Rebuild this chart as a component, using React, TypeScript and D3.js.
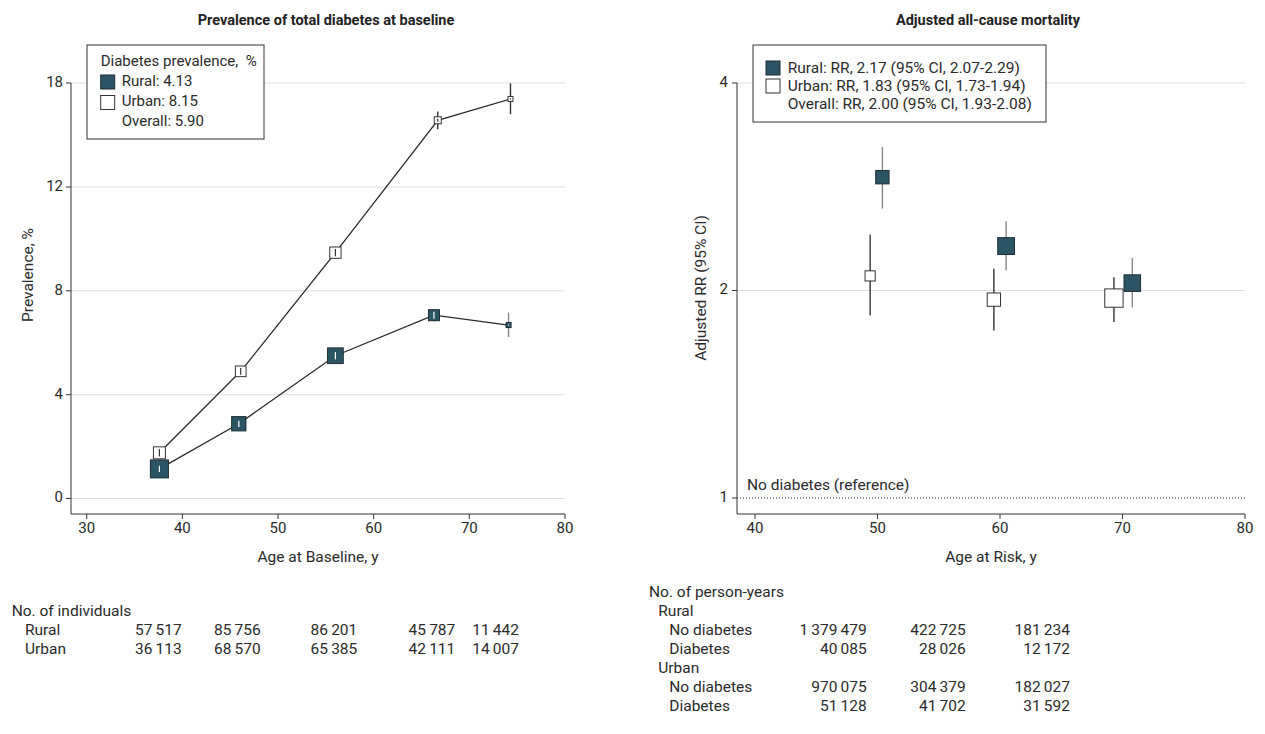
import React, { useEffect, useRef } from 'react';
import * as d3 from 'd3';

// Left panel: prevalence of total diabetes by baseline age group
const urbanAge = [37.6, 46.1, 56.0, 66.7, 74.3];
const urbanPrev = [1.76, 4.9, 9.47, 15.85, 17.08];
const urbanLo = [1.62, 4.74, 9.25, 15.33, 16.2];
const urbanHi = [1.9, 5.06, 9.7, 16.35, 17.98];
const urbanWeight = [1.44, 1.14, 1.28, 0.49, 0.25];

const ruralAge = [37.6, 45.9, 56.0, 66.3, 74.1];
const ruralPrev = [1.14, 2.88, 5.5, 7.06, 6.68];
const ruralLo = [1.02, 2.76, 5.36, 6.82, 6.22];
const ruralHi = [1.26, 3.0, 5.64, 7.3, 7.16];
const ruralWeight = [3.24, 2.04, 2.46, 1.21, 0.25];

const prevTicks = [0, 4, 8, 12, 18];
const baselineTicks = [30, 40, 50, 60, 70, 80];

// Right panel: adjusted all-cause mortality RR by age at risk
const rrUrbanAge = [49.4, 59.5, 69.3];
const rrUrban = [2.1, 1.94, 1.95];
const rrUrbanLo = [1.84, 1.75, 1.8];
const rrUrbanHi = [2.41, 2.15, 2.09];

const rrRuralAge = [50.4, 60.5, 70.8];
const rrRural = [2.92, 2.32, 2.05];
const rrRuralLo = [2.63, 2.14, 1.89];
const rrRuralHi = [3.23, 2.52, 2.23];

const rrTicks = [1, 2, 4];
const riskTicks = [40, 50, 60, 70, 80];

// Tables
const individualsRural = ['57\u2009517', '85\u2009756', '86\u2009201', '45\u2009787', '11\u2009442'];
const individualsUrban = ['36\u2009113', '68\u2009570', '65\u2009385', '42\u2009111', '14\u2009007'];
const pyRuralNo = ['1\u2009379\u2009479', '422\u2009725', '181\u2009234'];
const pyRuralYes = ['40\u2009085', '28\u2009026', '12\u2009172'];
const pyUrbanNo = ['970\u2009075', '304\u2009379', '182\u2009027'];
const pyUrbanYes = ['51\u2009128', '41\u2009702', '31\u2009592'];

const RURAL = '#2b5565';
const RURAL_EDGE = '#1d2c33';
const INK = '#333';
const GRID = '#dedede';
const FONT = 'Roboto, "Open Sans", sans-serif';
const FS = 15.5;   // body text
const TS = 15;     // tick labels

export default function App() {
  const svgRef = useRef<SVGSVGElement>(null);
  const W = 1265, H = 734;

  useEffect(() => {
    const svg = d3.select(svgRef.current);
    svg.selectAll('*').remove();
    svg.attr('font-family', FONT).attr('fill', INK);

    const txt = (x: number, y: number, s: string, size = FS, anchor = 'start') =>
      svg.append('text').attr('x', x).attr('y', y).attr('font-size', size)
        .attr('text-anchor', anchor).attr('dominant-baseline', 'middle').attr('fill', '#2a2a2a').text(s);

    // ---------- Left panel ----------
    const L = { left: 71, right: 565, top: 83, bottom: 514 };
    const xL = d3.scaleLinear().domain([30, 80]).range([86.7, 565]);
    const yL = d3.scaleLinear().domain(prevTicks).range([498.5, 394.7, 290.8, 187, 83]);
    const sideL = d3.scaleSqrt().domain([0, 1]).range([0, 10]);

    svg.append('text').attr('x', 326).attr('y', 21).attr('text-anchor', 'middle')
      .attr('dominant-baseline', 'middle').attr('font-size', 14.5).attr('font-weight', 'bold')
      .attr('fill', '#222').text('Prevalence of total diabetes at baseline');

    const gl = svg.append('g');
    for (const t of prevTicks) {
      gl.append('line').attr('x1', L.left).attr('x2', L.right).attr('y1', yL(t)).attr('y2', yL(t))
        .attr('stroke', GRID).attr('stroke-width', 1);
      gl.append('line').attr('x1', L.left - 5).attr('x2', L.left).attr('y1', yL(t)).attr('y2', yL(t))
        .attr('stroke', INK);
      txt(L.left - 8, yL(t), String(t), TS, 'end');
    }
    gl.append('line').attr('x1', L.left).attr('x2', L.left).attr('y1', L.top).attr('y2', L.bottom).attr('stroke', INK);
    gl.append('line').attr('x1', L.left).attr('x2', L.right).attr('y1', L.bottom).attr('y2', L.bottom).attr('stroke', INK);
    for (const t of baselineTicks) {
      gl.append('line').attr('x1', xL(t)).attr('x2', xL(t)).attr('y1', L.bottom).attr('y2', L.bottom + 5).attr('stroke', INK);
      txt(xL(t), L.bottom + 15, String(t), TS, 'middle');
    }
    txt((L.left + L.right) / 2, 558, 'Age at Baseline, y', FS, 'middle');
    svg.append('text').attr('transform', `translate(29,275) rotate(-90)`).attr('text-anchor', 'middle')
      .attr('dominant-baseline', 'middle').attr('font-size', FS).attr('fill', '#2a2a2a').text('Prevalence, %');

    const line = d3.line<number>();
    const drawSeries = (ages: number[], vals: number[], lo: number[], hi: number[], wts: number[], rural: boolean) => {
      gl.append('path')
        .attr('d', line(ages.map((a, i) => [xL(a), yL(vals[i])] as [number, number])))
        .attr('fill', 'none').attr('stroke', '#2a2a2a').attr('stroke-width', 1.3);
      ages.forEach((a, i) => {
        const cx = xL(a), cy = yL(vals[i]), s = sideL(wts[i]);
        const yTop = yL(hi[i]), yBot = yL(lo[i]);
        gl.append('line').attr('x1', cx).attr('x2', cx).attr('y1', yTop).attr('y2', yBot)
          .attr('stroke', rural ? '#888' : INK).attr('stroke-width', 1.4);
        gl.append('rect').attr('x', cx - s / 2).attr('y', cy - s / 2).attr('width', s).attr('height', s)
          .attr('fill', rural ? RURAL : '#fff').attr('stroke', rural ? RURAL_EDGE : INK).attr('stroke-width', 1);
        const y1 = Math.max(yTop, cy - s / 2 + 2), y2 = Math.min(yBot, cy + s / 2 - 2);
        if (y2 > y1) {
          gl.append('line').attr('x1', cx).attr('x2', cx).attr('y1', y1).attr('y2', y2)
            .attr('stroke', rural ? '#fff' : INK).attr('stroke-width', 1.2);
        }
      });
    };
    drawSeries(urbanAge, urbanPrev, urbanLo, urbanHi, urbanWeight, false);
    drawSeries(ruralAge, ruralPrev, ruralLo, ruralHi, ruralWeight, true);

    // Left legend
    const LG = 15;
    gl.append('rect').attr('x', 87).attr('y', 45).attr('width', 177).attr('height', 94)
      .attr('fill', '#fff').attr('stroke', INK);
    txt(100.7, 62, 'Diabetes prevalence,\u00a0 %', LG);
    gl.append('rect').attr('x', 100.7).attr('y', 75).attr('width', 14).attr('height', 14)
      .attr('fill', RURAL).attr('stroke', RURAL_EDGE);
    txt(121.7, 82, 'Rural: 4.13', LG);
    gl.append('rect').attr('x', 100.7).attr('y', 95.5).attr('width', 14).attr('height', 14)
      .attr('fill', '#fff').attr('stroke', INK);
    txt(121.7, 102.5, 'Urban: 8.15', LG);
    txt(121.7, 122, 'Overall: 5.90', LG);

    // Left table
    txt(11.7, 612, 'No. of individuals');
    txt(25, 631, 'Rural');
    txt(25, 650, 'Urban');
    const colL = [181.7, 260.7, 357.3, 455.3, 519];
    colL.forEach((x, i) => {
      txt(x, 631, individualsRural[i], FS, 'end');
      txt(x, 650, individualsUrban[i], FS, 'end');
    });

    // ---------- Right panel ----------
    const R = { left: 737, right: 1245, top: 83, bottom: 514 };
    const xR = d3.scaleLinear().domain([40, 80]).range([755, 1245]);
    const yR = d3.scaleLog().base(2).domain([1, 4]).range([498, 83]);
    const sideR = d3.scaleLinear().domain([0, 1]).range([0, 2.74]);

    svg.append('text').attr('x', 988).attr('y', 21).attr('text-anchor', 'middle')
      .attr('dominant-baseline', 'middle').attr('font-size', 14.5).attr('font-weight', 'bold')
      .attr('fill', '#222').text('Adjusted all-cause mortality');

    const gr = svg.append('g');
    for (const t of rrTicks) {
      if (t !== 1) {
        gr.append('line').attr('x1', R.left).attr('x2', R.right).attr('y1', yR(t)).attr('y2', yR(t))
          .attr('stroke', GRID);
      }
      gr.append('line').attr('x1', R.left - 5).attr('x2', R.left).attr('y1', yR(t)).attr('y2', yR(t)).attr('stroke', INK);
      txt(R.left - 9, yR(t), String(t), TS, 'end');
    }
    gr.append('line').attr('x1', R.left).attr('x2', R.right).attr('y1', yR(1)).attr('y2', yR(1))
      .attr('stroke', '#222').attr('stroke-dasharray', '1,2');
    txt(747, 486, 'No diabetes (reference)');
    gr.append('line').attr('x1', R.left).attr('x2', R.left).attr('y1', R.top).attr('y2', R.bottom).attr('stroke', INK);
    gr.append('line').attr('x1', R.left).attr('x2', R.right).attr('y1', R.bottom).attr('y2', R.bottom).attr('stroke', INK);
    for (const t of riskTicks) {
      gr.append('line').attr('x1', xR(t)).attr('x2', xR(t)).attr('y1', R.bottom).attr('y2', R.bottom + 5).attr('stroke', INK);
      txt(xR(t), R.bottom + 15, String(t), TS, 'middle');
    }
    txt((R.left + R.right) / 2, 558, 'Age at Risk, y', FS, 'middle');
    svg.append('text').attr('transform', `translate(702,288) rotate(-90)`).attr('text-anchor', 'middle')
      .attr('dominant-baseline', 'middle').attr('font-size', FS).attr('fill', '#2a2a2a').text('Adjusted RR (95% CI)');

    const drawRR = (ages: number[], vals: number[], lo: number[], hi: number[], rural: boolean) => {
      ages.forEach((a, i) => {
        const cx = xR(a), cy = yR(vals[i]);
        const s = sideR(1 / Math.log(hi[i] / lo[i]));
        gr.append('line').attr('x1', cx).attr('x2', cx).attr('y1', yR(hi[i])).attr('y2', yR(lo[i]))
          .attr('stroke', rural ? '#888' : INK).attr('stroke-width', 1.4);
        gr.append('rect').attr('x', cx - s / 2).attr('y', cy - s / 2).attr('width', s).attr('height', s)
          .attr('fill', rural ? RURAL : '#fff').attr('stroke', rural ? RURAL_EDGE : INK).attr('stroke-width', 1);
      });
    };
    drawRR(rrUrbanAge, rrUrban, rrUrbanLo, rrUrbanHi, false);
    drawRR(rrRuralAge, rrRural, rrRuralLo, rrRuralHi, true);

    // Right legend
    gr.append('rect').attr('x', 753).attr('y', 45).attr('width', 293).attr('height', 77)
      .attr('fill', '#fff').attr('stroke', INK);
    gr.append('rect').attr('x', 766).attr('y', 61).attr('width', 14).attr('height', 14)
      .attr('fill', RURAL).attr('stroke', RURAL_EDGE);
    txt(787.7, 68.5, 'Rural: RR, 2.17 (95% CI, 2.07-2.29)');
    gr.append('rect').attr('x', 766).attr('y', 79).attr('width', 14).attr('height', 14)
      .attr('fill', '#fff').attr('stroke', INK);
    txt(787.7, 86.5, 'Urban: RR, 1.83 (95% CI, 1.73-1.94)');
    txt(787.7, 105, 'Overall: RR, 2.00 (95% CI, 1.93-2.08)');

    // Right table
    txt(649, 593, 'No. of person-years');
    txt(658.3, 612, 'Rural');
    txt(669.3, 631, 'No diabetes');
    txt(669.3, 650, 'Diabetes');
    txt(658.3, 669, 'Urban');
    txt(669.3, 688, 'No diabetes');
    txt(669.3, 707, 'Diabetes');
    const colR = [866.7, 965.7, 1070];
    colR.forEach((x, i) => {
      txt(x, 631, pyRuralNo[i], FS, 'end');
      txt(x, 650, pyRuralYes[i], FS, 'end');
      txt(x, 688, pyUrbanNo[i], FS, 'end');
      txt(x, 707, pyUrbanYes[i], FS, 'end');
    });
  }, []);

  return (
    <svg ref={svgRef} width={W} height={H} viewBox={`0 0 ${W} ${H}`}
      style={{ position: 'absolute', left: 0, top: 0, background: '#fff' }} />
  );
}
